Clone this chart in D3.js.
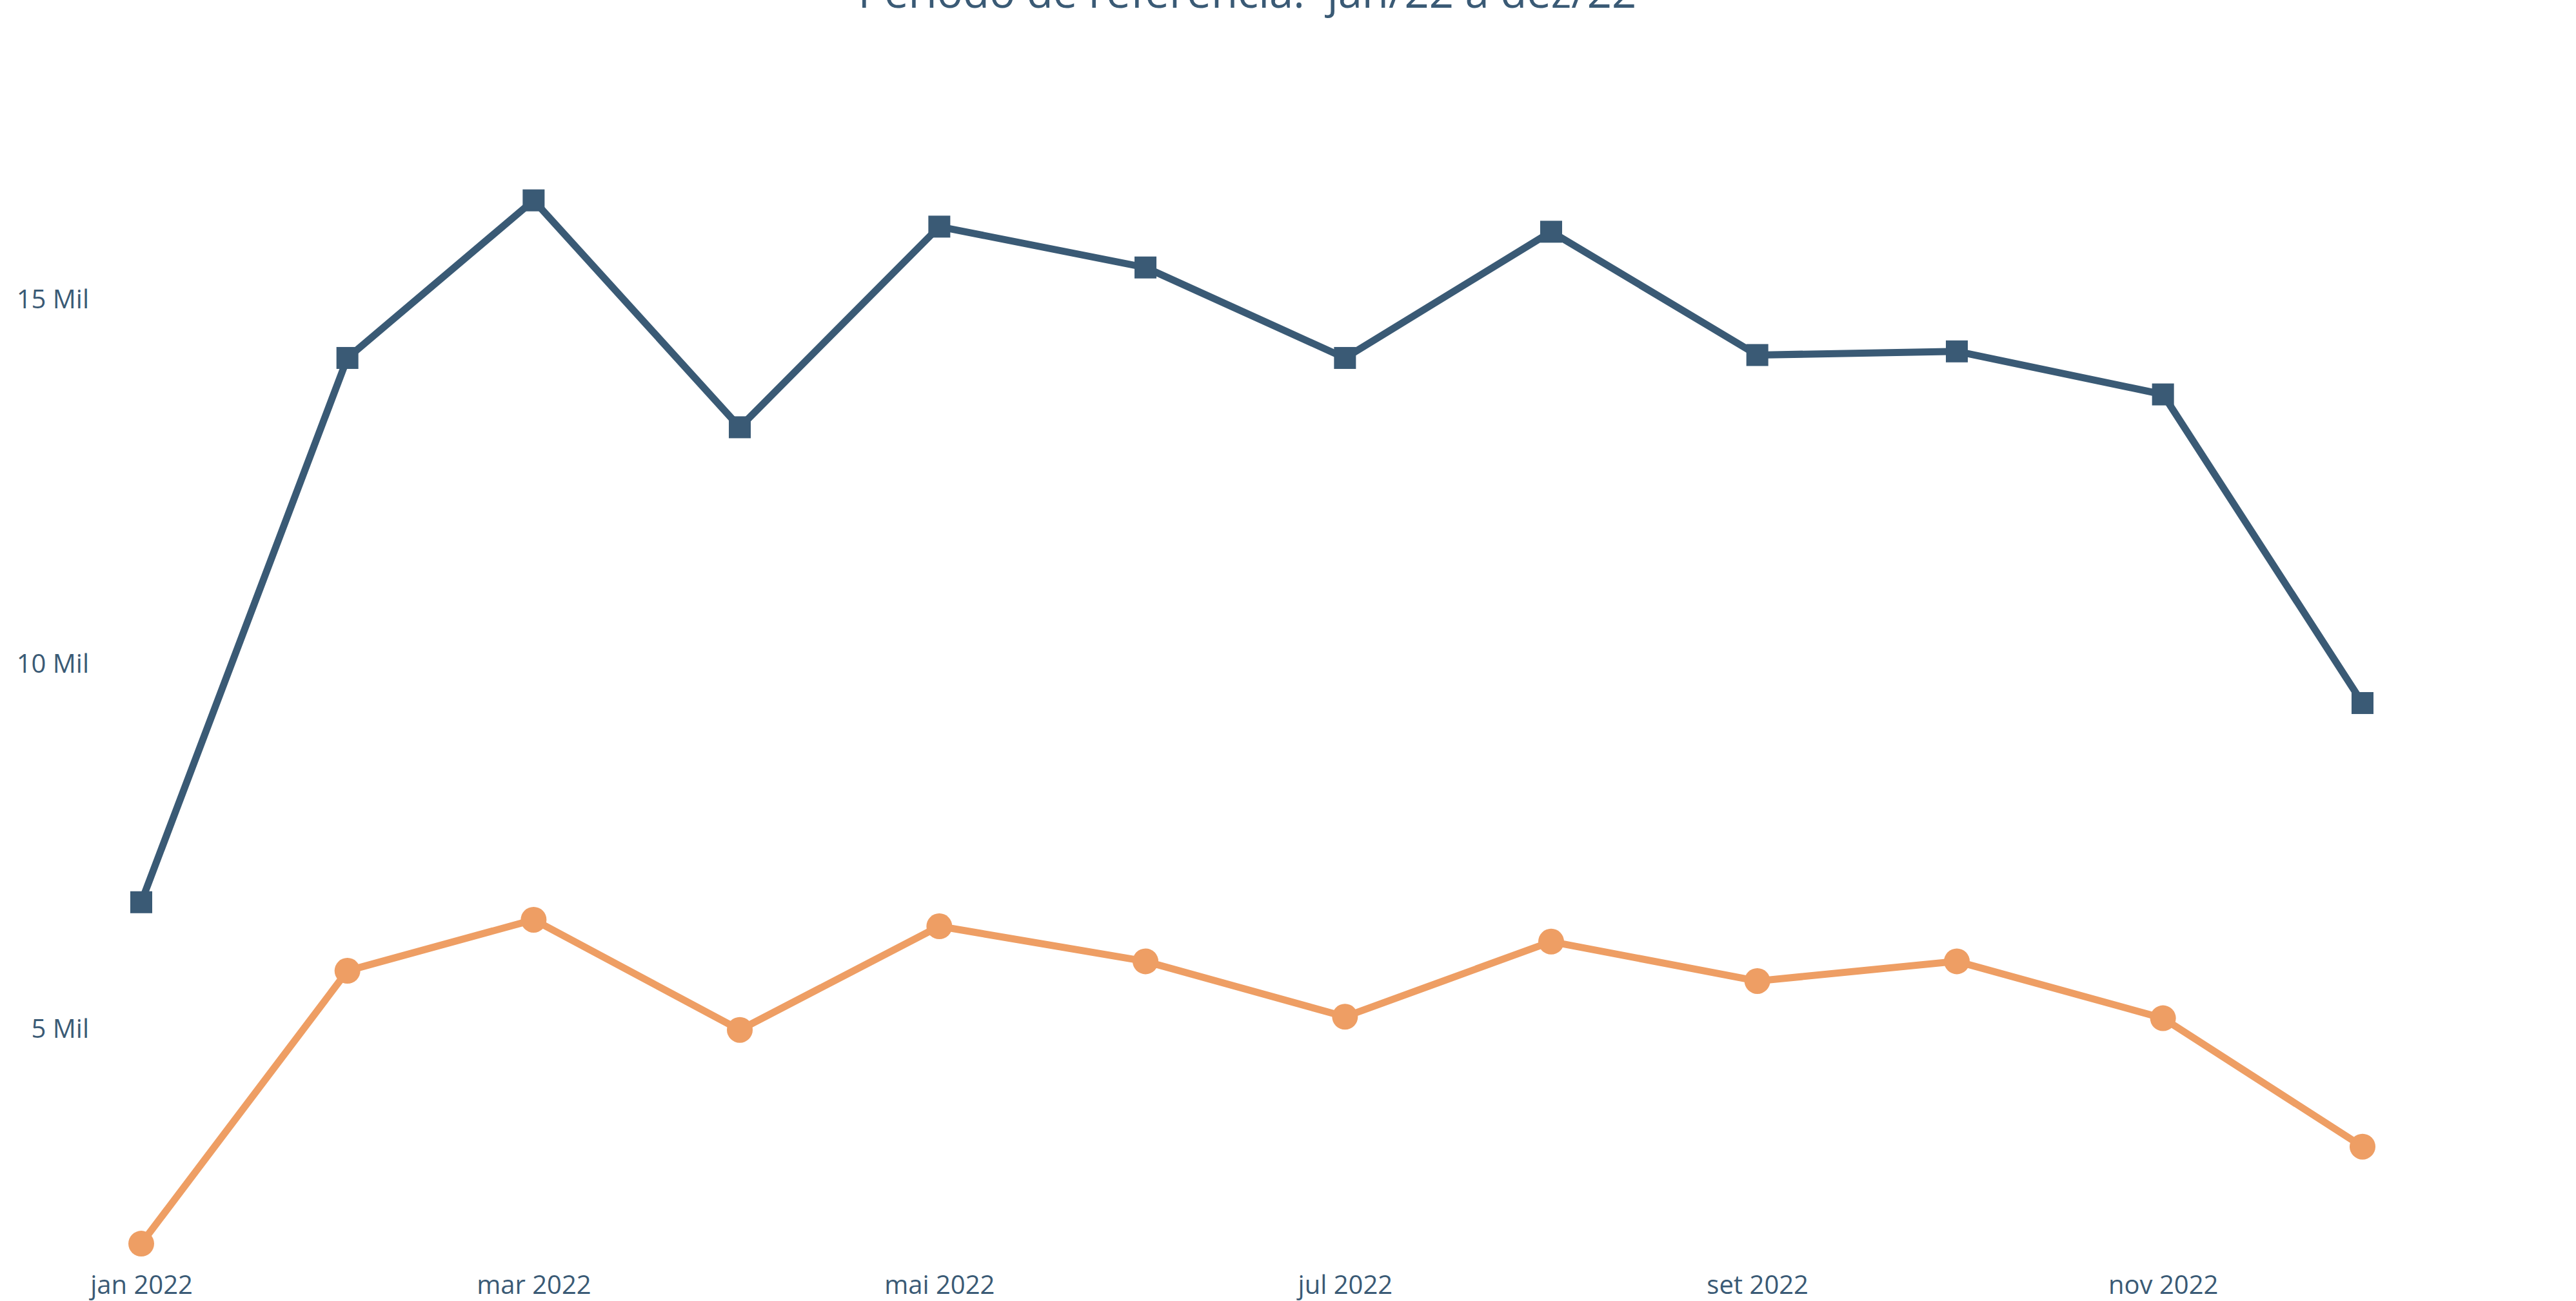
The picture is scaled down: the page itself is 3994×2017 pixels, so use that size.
<!DOCTYPE html>
<html>
<head>
<meta charset="utf-8">
<script src="https://cdn.jsdelivr.net/npm/d3@7"></script>
<style>
  body { margin: 0; background: #fff; }
  text { font-family: "Open Sans", sans-serif; fill: #3a5a75; }
</style>
</head>
<body>
<div id="chart"></div>
<script>
// data
const months = ["2022-01-01", "2022-02-01", "2022-03-01", "2022-04-01", "2022-05-01", "2022-06-01",
                "2022-07-01", "2022-08-01", "2022-09-01", "2022-10-01", "2022-11-01", "2022-12-01"];
const serieAzul = [6730, 14190, 16350, 13240, 15990, 15430, 14190, 15920, 14230, 14280, 13690, 9460];
const serieLaranja = [2050, 5790, 6490, 4980, 6400, 5920, 5160, 6190, 5650, 5920, 5140, 3380];
const yTicks = [5000, 10000, 15000];
const xTicks = ["2022-01-01", "2022-03-01", "2022-05-01", "2022-07-01", "2022-09-01", "2022-11-01"];
const nomesMes = ["jan", "fev", "mar", "abr", "mai", "jun", "jul", "ago", "set", "out", "nov", "dez"];
const titulo = "Período de referência:  jan/22 a dez/22";

const width = 3994;
const height = 2017;
const azul = "#3a5a75";
const laranja = "#ee9e64";

const parse = d3.timeParse("%Y-%m-%d");
const dates = months.map(parse);

const svg = d3.select("#chart")
  .append("svg")
    .attr("width", width)
    .attr("height", height);

// scales
const x = d3.scaleTime()
  .domain([dates[0], dates[dates.length - 1]])
  .range([219, 3663]);

const y = d3.scaleLinear()
  .domain([0, 18000])
  .range([2160, 124]);

// title (cut at the top edge, as in the original)
svg.append("text")
  .attr("x", 1934)
  .attr("y", 12)
  .attr("text-anchor", "middle")
  .style("font-size", "67px")
  .style("white-space", "pre")
  .text(titulo);

// y axis (labels only)
const yAxis = d3.axisLeft(y)
  .tickValues(yTicks)
  .tickSize(0)
  .tickPadding(0)
  .tickFormat(d => (d / 1000) + " Mil");

svg.append("g")
  .attr("transform", "translate(138,0)")
  .call(yAxis)
  .call(g => g.select(".domain").remove())
  .selectAll("text")
    .style("font-size", "40px")
    .style("font-family", "'Open Sans', sans-serif")
    .attr("fill", azul)
    .attr("dy", "0.35em");

// x axis (labels only)
const xAxis = d3.axisBottom(x)
  .tickValues(xTicks.map(parse))
  .tickSize(0)
  .tickPadding(0)
  .tickFormat(d => nomesMes[d.getMonth()] + " " + d.getFullYear());

svg.append("g")
  .attr("transform", "translate(0,1992)")
  .call(xAxis)
  .call(g => g.select(".domain").remove())
  .selectAll("text")
    .style("font-size", "40px")
    .style("font-family", "'Open Sans', sans-serif")
    .attr("fill", azul)
    .attr("dy", "0.35em");

// lines
const line = d3.line()
  .x((d, i) => x(dates[i]))
  .y(d => y(d));

svg.append("path")
  .datum(serieAzul)
  .attr("d", line)
  .style("fill", "none")
  .style("stroke", azul)
  .style("stroke-width", 11);

svg.append("path")
  .datum(serieLaranja)
  .attr("d", line)
  .style("fill", "none")
  .style("stroke", laranja)
  .style("stroke-width", 11);

// markers
const sq = 34;
svg.append("g")
  .selectAll("rect")
  .data(serieAzul)
  .enter()
  .append("rect")
    .attr("x", (d, i) => x(dates[i]) - sq / 2)
    .attr("y", d => y(d) - sq / 2)
    .attr("width", sq)
    .attr("height", sq)
    .style("fill", azul);

svg.append("g")
  .selectAll("circle")
  .data(serieLaranja)
  .enter()
  .append("circle")
    .attr("cx", (d, i) => x(dates[i]))
    .attr("cy", d => y(d))
    .attr("r", 20)
    .style("fill", laranja);
</script>
</body>
</html>
